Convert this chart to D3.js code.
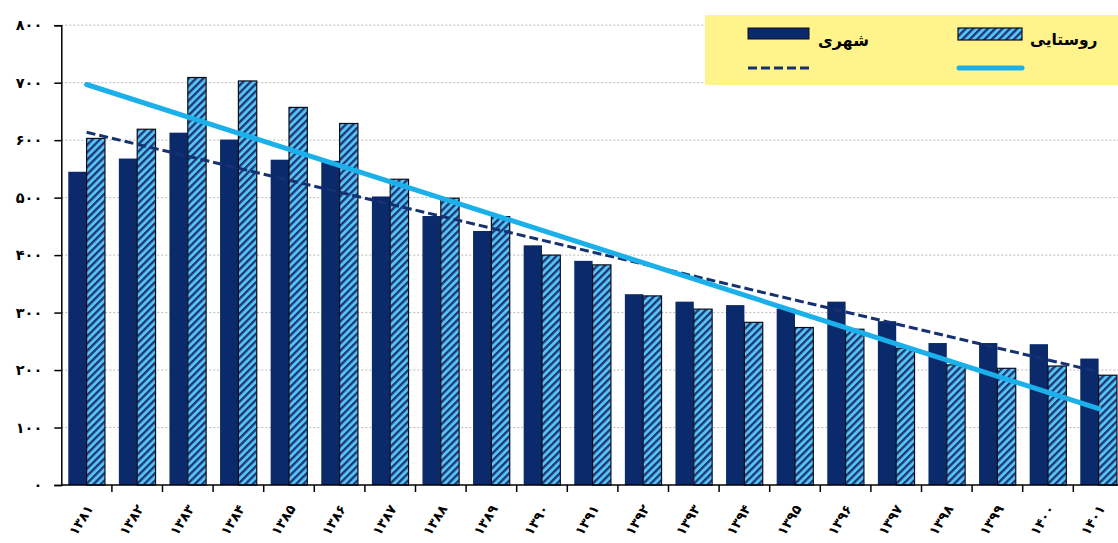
<!DOCTYPE html>
<html>
<head>
<meta charset="utf-8">
<script src="https://cdn.jsdelivr.net/npm/d3@7"></script>
<style>
  html, body { margin: 0; padding: 0; background: #fff; }
  svg { display: block; }
  text { font-family: "DejaVu Sans", sans-serif; font-weight: bold; fill: #000; }
</style>
</head>
<body>
<svg id="chart" width="1118" height="543"></svg>
<script>
// ---- data ----
const years = [1381,1382,1383,1384,1385,1386,1387,1388,1389,1390,1391,1392,1393,1394,1395,1396,1397,1398,1399,1400,1401];
const urban = [545,568,613,601,566,564,502,468,442,417,390,332,319,313,307,319,285,247,247,245,220];
const rural = [603,619,709,703,657,629,532,499,467,400,383,329,306,283,274,271,238,209,203,207,191];
const yTicks = [0,100,200,300,400,500,600,700,800];
const seriesNames = ["شهری", "روستایی"];

// ---- helpers ----
const faDigits = "۰۱۲۳۴۵۶۷۸۹";
const toFa = v => String(v).replace(/\d/g, d => faDigits[+d]);

const svg = d3.select("#chart");
const W = 1118, H = 543;
const left = 61.3, step = 50.6;
const x = d3.scaleBand().domain(years).range([left, left + step * years.length]).padding(0);
const xs = d3.scaleBand().domain([0, 1]).range([0, x.bandwidth()]).paddingInner(0).paddingOuter(0.38);
const y = d3.scaleLinear().domain([0, 800]).range([485, 25.2]);

const C_DARK = "#0b2a6c";
const C_LIGHT = "#55c4f0";
const C_STRIPE = "#1d3579";
const C_TREND_R = "#1bb0e9";
const C_TREND_U = "#16316f";

// hatch pattern
const defs = svg.append("defs");
const pat = defs.append("pattern")
  .attr("id", "hatch").attr("patternUnits", "userSpaceOnUse")
  .attr("width", 5.2).attr("height", 5.2)
  .attr("patternTransform", "rotate(45)");
pat.append("rect").attr("width", 5.2).attr("height", 5.2).attr("fill", C_LIGHT);
pat.append("rect").attr("width", 2.3).attr("height", 5.2).attr("fill", C_STRIPE);

// gridlines
svg.append("g").selectAll("line").data(yTicks.filter(v => v > 0)).join("line")
  .attr("x1", left).attr("x2", W)
  .attr("y1", d => y(d)).attr("y2", d => y(d))
  .attr("stroke", "#b8b8b8").attr("stroke-width", 1).attr("stroke-dasharray", "2,2");

// bars
const groups = svg.append("g").selectAll("g").data(years).join("g")
  .attr("transform", d => `translate(${x(d)},0)`);
groups.append("rect")
  .attr("x", xs(0)).attr("width", xs.bandwidth())
  .attr("y", (d, i) => y(urban[i])).attr("height", (d, i) => y(0) - y(urban[i]))
  .attr("fill", C_DARK);
groups.append("rect")
  .attr("x", xs(1)).attr("width", xs.bandwidth())
  .attr("y", (d, i) => y(rural[i])).attr("height", (d, i) => y(0) - y(rural[i]))
  .attr("fill", "url(#hatch)").attr("stroke", "#0d0d1a").attr("stroke-width", 1.2);

// trend lines (least squares, like Excel)
function linreg(vals) {
  const n = vals.length, xm = (n - 1) / 2, ym = d3.mean(vals);
  let sxy = 0, sxx = 0;
  vals.forEach((v, i) => { sxy += (i - xm) * (v - ym); sxx += (i - xm) * (i - xm); });
  const b = sxy / sxx, a = ym - b * xm;
  return i => a + b * i;
}
const cx = d => x(d) + x.bandwidth() / 2;
const ends = [0, years.length - 1];
const fu = linreg(urban), fr = linreg(rural);
const line = f => d3.line().x(i => cx(years[i])).y(i => y(f(i)))(ends);
svg.append("path").attr("d", line(fu)).attr("fill", "none")
  .attr("stroke", C_TREND_U).attr("stroke-width", 3).attr("stroke-dasharray", "9,4");
svg.append("path").attr("d", line(fr)).attr("fill", "none")
  .attr("stroke", C_TREND_R).attr("stroke-width", 5).attr("stroke-linecap", "round");

// y axis
const yAxis = d3.axisLeft(y).tickValues(yTicks).tickSize(7).tickPadding(12).tickFormat(toFa);
const gy = svg.append("g").attr("transform", `translate(${left},0)`).call(yAxis);
gy.select(".domain").attr("stroke", "#000").attr("stroke-width", 1.5);
gy.selectAll(".tick line").attr("stroke", "#000").attr("stroke-width", 1.5);
gy.selectAll(".tick text").style("font-size", "14.5px").style("font-weight", "bold")
  .style("font-family", "'DejaVu Sans', sans-serif").attr("fill", "#000");

// x axis
const gx = svg.append("g");
gx.append("line").attr("x1", left).attr("x2", W).attr("y1", y(0)).attr("y2", y(0))
  .attr("stroke", "#000").attr("stroke-width", 1.5);
gx.selectAll("line.tk").data(years).join("line").attr("class", "tk")
  .attr("x1", d => x(d) + x.bandwidth()).attr("x2", d => x(d) + x.bandwidth())
  .attr("y1", y(0)).attr("y2", y(0) + 7)
  .attr("stroke", "#000").attr("stroke-width", 1.5);
gx.selectAll("text").data(years).join("text")
  .attr("transform", d => `translate(${cx(d) + 3},${y(0) + 21}) rotate(-58)`)
  .attr("text-anchor", "end").attr("dy", "0.35em")
  .style("font-size", "13.5px")
  .text(d => toFa(d));

// legend
const lg = svg.append("g");
lg.append("rect").attr("x", 705).attr("y", 15).attr("width", 420).attr("height", 70).attr("fill", "#fff48c");
lg.append("rect").attr("x", 748).attr("y", 28).attr("width", 61).attr("height", 11)
  .attr("fill", C_DARK).attr("stroke", "#0d0d1a").attr("stroke-width", 1);
lg.append("text").attr("x", 818).attr("y", 40).attr("dy", "0.35em").style("font-size", "16px").text(seriesNames[0]);
lg.append("rect").attr("x", 958).attr("y", 28).attr("width", 64).attr("height", 12)
  .attr("fill", "url(#hatch)").attr("stroke", "#0d0d1a").attr("stroke-width", 1.2);
lg.append("text").attr("x", 1030).attr("y", 40).attr("dy", "0.35em").style("font-size", "15.5px").text(seriesNames[1]);
lg.append("line").attr("x1", 748).attr("x2", 811).attr("y1", 68).attr("y2", 68)
  .attr("stroke", C_TREND_U).attr("stroke-width", 3).attr("stroke-dasharray", "9,4");
lg.append("line").attr("x1", 959).attr("x2", 1022).attr("y1", 68).attr("y2", 68)
  .attr("stroke", C_TREND_R).attr("stroke-width", 5).attr("stroke-linecap", "round");
</script>
</body>
</html>
